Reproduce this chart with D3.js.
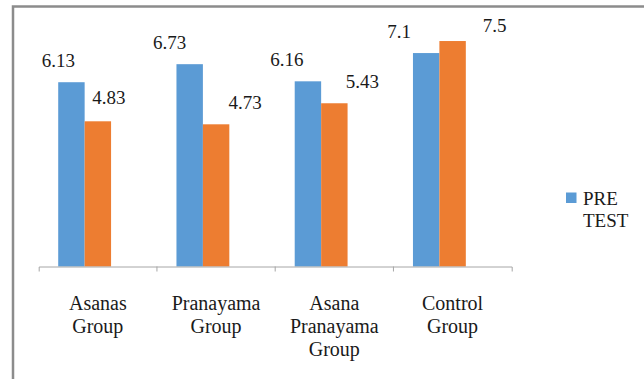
<!DOCTYPE html>
<html>
<head>
<meta charset="utf-8">
<script src="https://cdn.jsdelivr.net/npm/d3@7"></script>
</head>
<body style="margin:0">
<svg id="chart" width="644" height="379"></svg>
<script>
// Group names, each split into its printed lines
const categories = ["Asanas Group", "Pranayama Group", "Asana Pranayama Group", "Control Group"];
const categoryLines = [["Asanas", "Group"], ["Pranayama", "Group"], ["Asana", "Pranayama", "Group"], ["Control", "Group"]];

// Mean scores per group
const series = ["PRE TEST", "POST TEST"];
const preTest = [6.13, 6.73, 6.16, 7.1];
const postTest = [4.83, 4.73, 5.43, 7.5];
const seriesColors = ["#5b9bd5", "#ed7d31"];

// Offsets of each value label from its bar's top centre (px)
const labelNudge = [[-13, -20, -21, -27], [11, 29, 28, 42]];
const labelRise = [[22, 22, 22, 22], [24, 22, 22, 16]];

const INK = "#1a1a1a";
const serifFace = `"Liberation Serif", monospace`;

const svg = d3.select("#chart");
const W = 644, H = 379;

// Outer frame of the chart area
svg.append("rect")
  .attr("x", 13).attr("y", 6.5)
  .attr("width", W + 20).attr("height", H + 20)
  .attr("fill", "#fff")
  .attr("stroke", "#8c8c8c")
  .attr("stroke-width", 2.5);

const plot = { left: 38.7, right: 511.7, top: 26, bottom: 266.5 };

const x0 = d3.scaleBand().domain(categories).range([plot.left, plot.right]).padding(0);
const bw = x0.bandwidth();
const x1 = d3.scaleBand().domain(series).range([bw * 0.165, bw * 0.612]).padding(0);
const y = d3.scaleLinear().domain([0, 8]).range([plot.bottom, plot.top]);

const values = [preTest, postTest];

// Bars
series.forEach((s, si) => {
  svg.append("g").selectAll("rect")
    .data(categories.map((c, i) => ({ c, i, v: values[si][i] })))
    .join("rect")
    .attr("x", d => x0(d.c) + x1(s))
    .attr("y", d => y(d.v))
    .attr("width", x1.bandwidth())
    .attr("height", d => y(0) - y(d.v))
    .attr("fill", seriesColors[si]);
});

// Category axis with ticks at group boundaries
const axis = svg.append("g")
  .attr("transform", `translate(0,${plot.bottom})`)
  .call(d3.axisBottom(x0).tickSize(0).tickSizeOuter(5).tickFormat(""));
axis.select(".domain").attr("stroke", "#a6a6a6").attr("stroke-width", 1);
axis.selectAll(".tick").remove();
axis.selectAll("line.bound")
  .data(categories.slice(1))
  .join("line")
  .attr("class", "bound")
  .attr("x1", d => x0(d)).attr("x2", d => x0(d))
  .attr("y1", 0).attr("y2", 5)
  .attr("stroke", "#a6a6a6");

// Category labels, one text per printed line
categories.forEach((c, i) => {
  svg.append("g").selectAll("text")
    .data(categoryLines[i])
    .join("text")
    .attr("x", x0(c) + bw / 2)
    .attr("y", (d, k) => plot.bottom + 43 + k * 23)
    .attr("text-anchor", "middle")
    .attr("font-size", 20)
    .attr("fill", INK)
    .style("font-family", serifFace)
    .text(d => d);
});

// Value labels
series.forEach((s, si) => {
  svg.append("g").selectAll("text")
    .data(categories.map((c, i) => ({ c, i, v: values[si][i] })))
    .join("text")
    .attr("x", d => x0(d.c) + x1(s) + x1.bandwidth() / 2 + labelNudge[si][d.i])
    .attr("y", d => y(d.v) - labelRise[si][d.i] + 6.5)
    .attr("text-anchor", "middle")
    .attr("font-size", 19)
    .attr("fill", INK)
    .style("font-family", serifFace)
    .text(d => String(d.v));
});

// Legend (first series only)
svg.append("rect")
  .attr("x", 566).attr("y", 192.5)
  .attr("width", 10.5).attr("height", 10.5)
  .attr("fill", seriesColors[0]);
svg.append("g").selectAll("text")
  .data(series[0].split(" "))
  .join("text")
  .attr("x", 583)
  .attr("y", (d, k) => 204.5 + k * 22.5)
  .attr("font-size", 19)
  .attr("fill", INK)
  .style("font-family", serifFace)
  .text(d => d);
</script>
</body>
</html>
